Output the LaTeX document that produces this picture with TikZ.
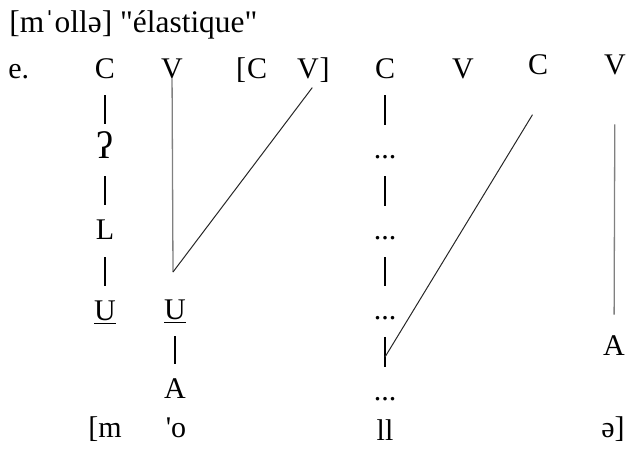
\documentclass[tikz,border=0pt]{standalone}
\usepackage{fontspec}
\setmainfont{Liberation Serif}
\usetikzlibrary{positioning}

\begin{document}
\begin{tikzpicture}[
    x=0.5pt, y=-0.5pt,
    node distance=30pt,
    every node/.style={font=\fontsize{15}{18}\selectfont, inner sep=0pt},
    seg/.style={text height=10pt, text depth=0pt, anchor=base},
    tick/.style={line width=0.6pt, shorten <=8.5pt, shorten >=7pt},
    boldtick/.style={line width=1pt, shorten <=8.5pt, shorten >=6.5pt},
    assoc/.style={line width=0.5pt, black!85},
    greyline/.style={line width=0.65pt, black!50}
]
    \useasboundingbox (0,0) rectangle (630,449);

    % Title and example letter
    \node[anchor=base west, font=\fontsize{15.7}{18}\selectfont] (title) at (9,33)
        {[mˈollə] \textquotedbl élastique\textquotedbl};
    \node[anchor=base west] (ex) at (8,78) {e.};

    % Skeleton
    \node[seg] (C1) at (105,78) {C};
    \node[seg] (V2) at (172,78) {V};
    \node[seg] (C3) at (257,78) {C};
    \node[seg, anchor=base east] (lbr) at (C3.base west) {[};
    \node[seg] (V3) at (308,78) {V};
    \node[seg, anchor=base west] (rbr) at (V3.base east) {]};
    \node[seg] (C4) at (385,78) {C};
    \node[seg] (V4) at (463,78) {V};
    \node[seg] (C5) at (538,75) {C};
    \node[seg] (V6) at (615,75) {V};

    % Melody, first column
    \node[seg, below=of C1, font=\fontsize{19}{20}\selectfont] (Q1) {ʔ};
    \node[seg, below=of Q1] (L1) {L};
    \node[seg, below=of L1] (U1) {\underline{U}};

    % Melody, second column
    \node[seg] (U2) at (175,319) {\underline{U}};
    \node[seg, below=29.5pt of U2] (A2) {A};

    % Empty positions under C
    \node[seg, below=of C4] (d1) {...};
    \node[seg, below=of d1] (d2) {...};
    \node[seg, below=29.5pt of d2] (d3) {...};
    \node[seg, below=of d3] (d4) {...};
    \node[seg, below=9.5pt of d4] (ll) {ll};

    % Final vowel
    \node[seg] (A6) at (614,355) {A};

    % Surface form
    \node[seg] (m) at (105,437) {[m};
    \node[seg] (o) at (176,437) {\textquotesingle o};
    \node[seg] (schwa) at (613,437) {ə]};

    % Association lines
    \coordinate (Vfoot) at (173,272);
    \coordinate (Cfoot) at (385,357);
    \draw[tick] (C1) -- (Q1);
    \draw[tick] (Q1) -- (L1);
    \draw[tick] (L1) -- (U1);
    \draw[tick] (U2) -- (A2);
    \draw[boldtick] (C4) -- (d1);
    \draw[boldtick] (d1) -- (d2);
    \draw[boldtick] (d2) -- (d3);
    \draw[boldtick] (d3) -- (d4);
    \draw[greyline] (V2) -- (Vfoot);
    \draw[assoc, shorten >=5.75pt] (Vfoot) -- (V3.south east);
    \draw[assoc, shorten >=23pt] (Cfoot) -- ([xshift=4pt]C5.south east);
    \draw[greyline, shorten <=24.5pt, shorten >=10pt] (V6) -- (A6);

\end{tikzpicture}
\end{document}
